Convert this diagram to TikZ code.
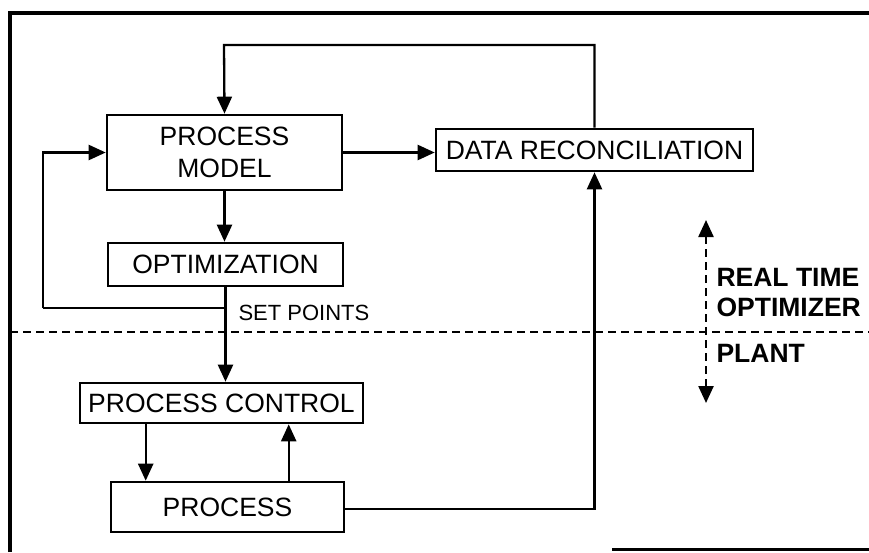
\documentclass[tikz,border=0pt]{standalone}
\usepackage{fontspec}
\setmainfont{Liberation Sans}
\usetikzlibrary{arrows.meta, calc}

\begin{document}
\begin{tikzpicture}[x=1pt, y=-1pt,
  block/.style={draw, line width=2.6pt, inner sep=0pt, align=center,
    font=\fontsize{26.5}{32}\selectfont},
  arr/.style={line width=2.3pt, -{Triangle[length=17pt, width=15pt]}},
  conn/.style={line width=2.3pt},
  split/.style={line width=2.4pt, dash pattern=on 8pt off 5pt},
  side/.style={anchor=west, align=left, font=\fontsize{26.5}{30}\selectfont\bfseries}]

  \useasboundingbox (0, 0) rectangle (869, 552);

  % frame
  \draw[line width=3.5pt] (10, 552) -- (10, 13) -- (869, 13);
  \draw[line width=3pt] (612, 549) -- (869, 549);

  % optimizer side
  \node[block, minimum width=235pt, minimum height=75pt] (pm) at (224.5, 152.5)
    {PROCESS\\MODEL};
  \node[block, minimum width=235pt, minimum height=43pt] (opt) at (225.5, 264.5)
    {OPTIMIZATION};
  \node[block, minimum width=317pt, minimum height=42pt] (dr) at (594.5, 150)
    {DATA RECONCILIATION};

  % plant side
  \node[block, minimum width=283pt, minimum height=40pt] (pc) at (221.5, 403)
    {PROCESS CONTROL};
  \node[block, minimum width=233pt, minimum height=50pt] (proc) at (227.5, 507)
    {PROCESS};

  \coordinate (tl) at (224, 45);
  \coordinate (sp) at (225, 308);
  \coordinate (lp) at (43, 308);
  \coordinate (cdown) at ([xshift=67pt]pc.south west);
  \coordinate (cup) at ([xshift=179pt]proc.north west);

  \draw[arr] (pm.south) -- (pm.south |- opt.north);
  \draw[arr] (pm.east) -- (pm.east -| dr.west);
  \draw[arr] (dr.north) |- (tl) -- (pm.north);
  \draw[conn] (opt.south |- sp) -- (lp);
  \draw[arr] (lp) |- (pm.west);
  \draw[arr] (opt.south) -- (opt.south |- pc.north);
  \node[anchor=west, font=\fontsize{22}{26}\selectfont] (setp) at (235, 313)
    {SET POINTS};

  \draw[arr] (cdown) -- (cdown |- proc.north);
  \draw[arr] (cup) -- (cup |- pc.south);
  \draw[arr] ([yshift=-2pt]proc.east) -| (dr.south);

  % boundary
  \coordinate (bl) at (10, 332);
  \coordinate (br) at (869, 332);
  \draw[split] (bl) -- (br);

  \coordinate (rtop) at (706, 220);
  \coordinate (rbot) at (706, 403);
  \draw[split, {Triangle[length=17pt, width=15pt]}-{Triangle[length=17pt, width=15pt]}]
    (rtop) -- (rbot);
  \node[side] (rto) at (713, 293) {REAL TIME\\OPTIMIZER};
  \node[side] (plant) at (713, 353) {PLANT};

\end{tikzpicture}
\end{document}
